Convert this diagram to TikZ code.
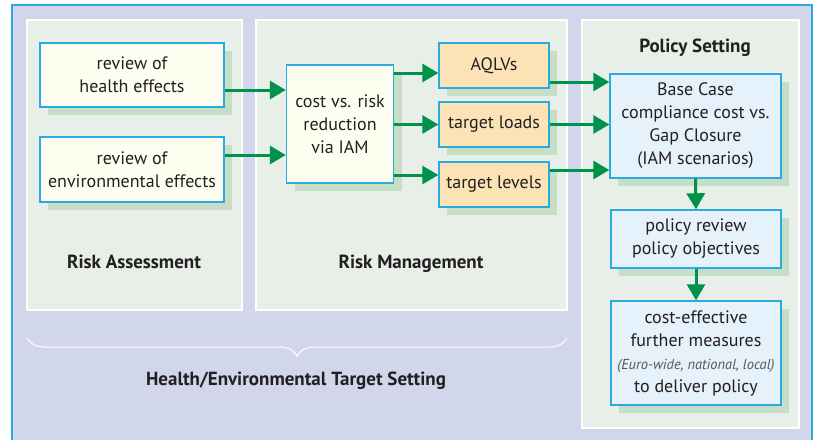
\documentclass[tikz,border=0pt]{standalone}
\usepackage{fontspec}
\setmainfont{PT Sans}
\usetikzlibrary{arrows.meta,shadows,decorations.pathreplacing}
\definecolor{framebg}{HTML}{D1D6EA}
\definecolor{frameline}{HTML}{29ABE2}
\definecolor{panelbg}{HTML}{E8EFE8}
\definecolor{boxline}{HTML}{29ABE2}
\definecolor{paleyellow}{HTML}{FEFEF0}
\definecolor{paleorange}{HTML}{FBE3B5}
\definecolor{paleblue}{HTML}{E6F2FB}
\definecolor{shade}{HTML}{C6DDC6}
\definecolor{flow}{HTML}{00914A}
\definecolor{ink}{HTML}{231F20}
\definecolor{note}{HTML}{555555}
\begin{document}
\begin{tikzpicture}[x=1pt,y=-1pt,
        box/.style={draw=boxline, line width=1.4pt, align=center, text=ink, inner sep=0pt,
            font=\fontsize{18}{23}\selectfont,
            drop shadow={shadow xshift=8pt, shadow yshift=-8pt, fill=shade, opacity=1}},
        panel/.style={fill=panelbg, draw=white, line width=1.2pt},
        title/.style={text=ink, anchor=base, font=\bfseries\fontsize{19}{23}\selectfont},
        flowarrow/.style={draw=flow, line width=3pt, -{Triangle[length=16pt,width=18pt]}}]
    \useasboundingbox (0,0) rectangle (816,439);
    \fill[white] (0,0) rectangle (816,439);
    \draw[fill=framebg, draw=frameline, line width=1.5pt] (12,5) rectangle (812,460);
    \draw[panel] (27,20) rectangle (242,310);
    \draw[panel] (256,20) rectangle (567,310);
    \draw[panel] (582,20) rectangle (799,428);
    \node[title] (assess) at (134,268) {Risk Assessment};
    \node[title] (manage) at (411,268) {Risk Management};
    \node[title] (policy) at (695,52) {Policy Setting};
    \node[box, fill=paleyellow, minimum width=184pt, minimum height=64pt] (health) at (132,75) {review of\\health effects};
    \node[box, fill=paleyellow, minimum width=184pt, minimum height=65pt] (envir) at (132,169.5) {review of\\environmental effects};
    \node[box, fill=paleyellow, minimum width=107pt, minimum height=118pt] (cost) at (340,124) {cost vs. risk\\reduction\\via IAM};
    \node[box, fill=paleorange, minimum width=110pt, minimum height=45pt] (aqlv) at (494,65.5) {AQLVs};
    \node[box, fill=paleorange, minimum width=110pt, minimum height=45pt] (loads) at (494,124.5) {target loads};
    \node[box, fill=paleorange, minimum width=110pt, minimum height=45pt] (levels) at (494,184.5) {target levels};
    \node[box, fill=paleblue, minimum width=171pt, minimum height=104pt] (base) at (695.5,126) {Base Case\\compliance cost vs.\\Gap Closure\\(IAM scenarios)};
    \node[box, fill=paleblue, minimum width=170pt, minimum height=58pt] (review) at (696,239) {policy review\\policy objectives};
    \node[box, fill=paleblue, minimum width=170pt, minimum height=104pt] (measures) at (696,353) {cost-effective\\further measures\\{\fontsize{14.5}{21}\selectfont\itshape\color{note}(Euro-wide, national, local)}\\to deliver policy};
    \draw[flowarrow] ([yshift=-15pt]health.east) -- ([yshift=-15pt]health.east -| cost.west);
    \draw[flowarrow] ([yshift=14.5pt]envir.east) -- ([yshift=14.5pt]envir.east -| cost.west);
    \draw[flowarrow] ([yshift=-7.5pt]aqlv.west -| cost.east) -- ([yshift=-7.5pt]aqlv.west);
    \draw[flowarrow] (loads.west -| cost.east) -- (loads.west);
    \draw[flowarrow] ([yshift=9.5pt]levels.west -| cost.east) -- ([yshift=9.5pt]levels.west);
    \draw[flowarrow] ([yshift=-16.5pt]aqlv.east) -- ([yshift=-16.5pt]aqlv.east -| base.west);
    \draw[flowarrow] (loads.east) -- (loads.east -| base.west);
    \draw[flowarrow] ([yshift=14.5pt]levels.east) -- ([yshift=14.5pt]levels.east -| base.west);
    \draw[flowarrow] (base.south) -- (review.north);
    \draw[flowarrow] (review.south) -- (measures.north);
    \draw[white, line width=1pt, decorate, decoration={brace, amplitude=18pt}] (567,338) -- (27,338);
    \node[title] (target) at (296,385) {Health/Environmental Target Setting};
\end{tikzpicture}
\end{document}
